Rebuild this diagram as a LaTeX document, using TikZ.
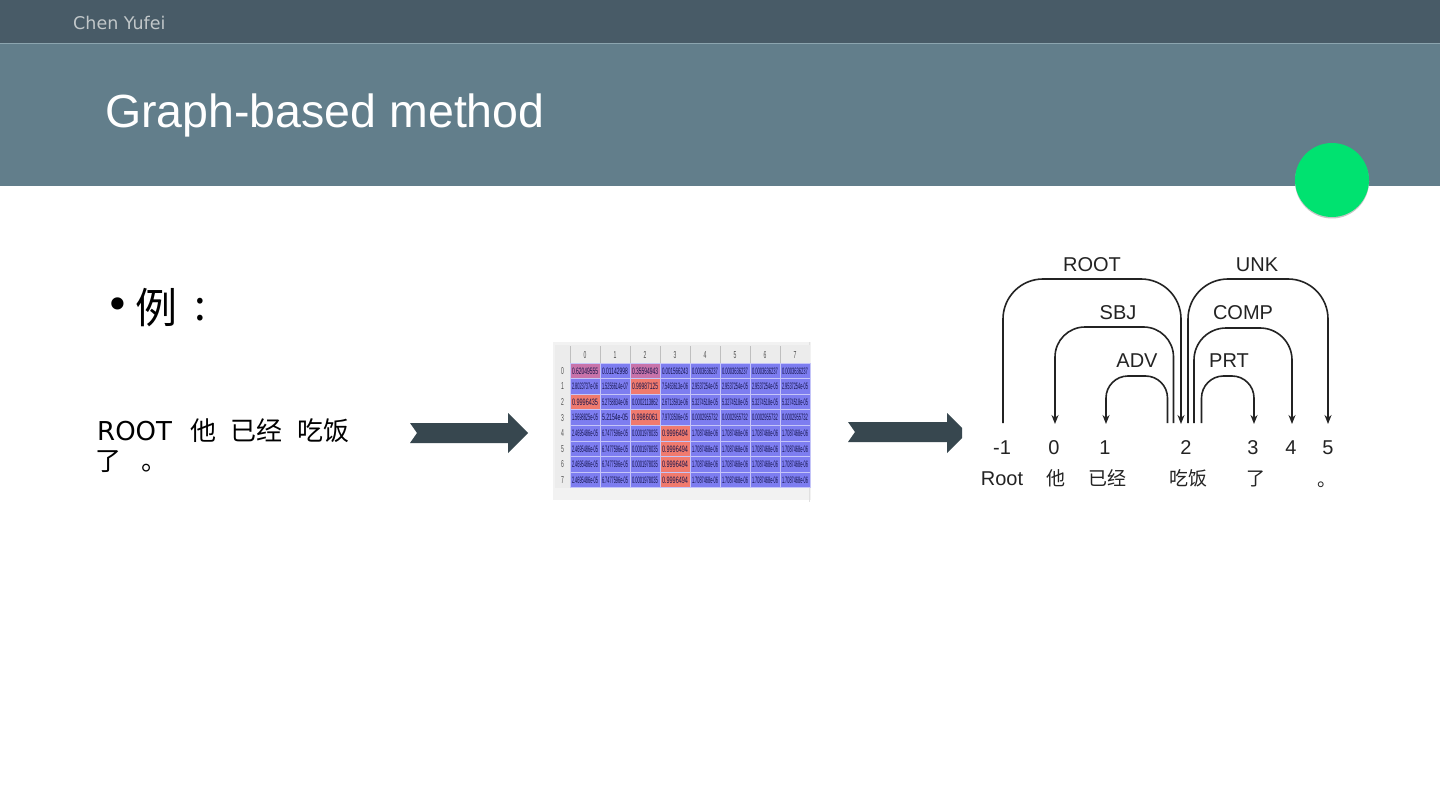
\documentclass[tikz,border=0pt]{standalone}
\usepackage{fontspec}
\usepackage{graphicx}
\setmainfont{Liberation Sans}
\newfontfamily\dejavu{DejaVu Sans}
\newfontfamily\cjk{Noto Sans CJK SC}
\newfontfamily\arial{Liberation Sans}
\usetikzlibrary{arrows.meta}
\definecolor{topbar}{RGB}{72,91,103}
\definecolor{band}{RGB}{98,126,139}
\definecolor{bandline}{RGB}{140,165,175}
\definecolor{greenc}{RGB}{0,226,112}
\definecolor{arrowc}{RGB}{55,71,79}
\definecolor{cellblue}{RGB}{125,125,240}
\definecolor{cellred}{RGB}{240,122,110}
\definecolor{cellpurple}{RGB}{200,115,170}
\definecolor{celltext}{RGB}{20,20,75}
\definecolor{hdrgray}{RGB}{236,236,236}
\definecolor{treec}{RGB}{35,35,35}
\tikzset{
  arc/.style={draw=treec, line width=1.6pt, -{Stealth[length=9pt,width=7pt]}},
  treetxt/.style={font=\arial\fontsize{20}{22}\selectfont, text=treec, inner sep=0},
  treecjk/.style={font=\cjk\fontsize{19}{22}\selectfont, text=treec, inner sep=0},
  celltxt/.style={inner sep=0, text=celltext},
  hdrtxt/.style={inner sep=0, text=black!70},
  blockarrow/.style={fill=arrowc},
}
\begin{document}
\begin{tikzpicture}[x=1pt,y=-1pt]
\useasboundingbox (0,0) rectangle (1440,810);
\fill[white] (0,0) rectangle (1440,810);
% header
\fill[topbar] (0,0) rectangle (1440,43);
\fill[bandline] (0,43) rectangle (1440,44.5);
\fill[band] (0,44.5) rectangle (1440,186);
\node[anchor=base west, font=\dejavu\fontsize{17.5}{20}\selectfont, text=black!15!white!80!band, inner sep=0] (author) at (73,29.5) {Chen Yufei};
\node[anchor=base west, font=\arial\fontsize{46.5}{50}\selectfont, text=white, inner sep=0] (title) at (105,128) {Graph-based method};
\fill[gray!45] (1332,181.5) circle (37);
\fill[greenc] (1332,180) circle (37);
% bullet
\node[font=\dejavu\fontsize{42}{42}\selectfont, inner sep=0] (bul) at (118,309) {•};
\node[anchor=west, font=\cjk\fontsize{42}{42}\selectfont, inner sep=0] (ex) at (135,308) {例};
\node[font=\cjk\fontsize{42}{42}\selectfont, inner sep=0] (colon) at (200,310) {:};
% sentence
\node[anchor=base west, font=\dejavu\fontsize{26}{28}\selectfont, inner sep=0] (sroot) at (97,440) {ROOT};
\node[anchor=base west, font=\cjk\fontsize{26}{28}\selectfont, inner sep=0] (sta) at (190,440) {他};
\node[anchor=base west, font=\cjk\fontsize{26}{28}\selectfont, inner sep=0] (syj) at (230,440) {已经};
\node[anchor=base west, font=\cjk\fontsize{26}{28}\selectfont, inner sep=0] (scf) at (297,440) {吃饭};
\node[anchor=base west, font=\cjk\fontsize{26}{28}\selectfont, inner sep=0] (sle) at (95,470) {了};
\node[anchor=base west, font=\cjk\fontsize{26}{28}\selectfont, inner sep=0] (sdot) at (141,470) {。};
% block arrows
\fill[blockarrow] (410,423) -- (508,423) -- (508,413) -- (528,433) -- (508,453) -- (508,443) -- (410,443) -- (417,433) -- cycle;
\fill[blockarrow] (848,422) -- (947,422) -- (947,413) -- (962,428) -- (962,438) -- (947,453) -- (947,442) -- (848,442) -- (855,432) -- cycle;
% matrix
\fill[black!5] (553,342) rectangle (811,500);
\draw[black!12, line width=0.6pt] (809.5,342) -- (809.5,502);
\fill[hdrgray] (555,345) rectangle (810,363);
\fill[hdrgray] (555,363) rectangle (570,488);
\foreach \c in {0,...,7}{
  \draw[black!25, line width=0.5pt] (570+30*\c,346) -- (570+30*\c,363);
  \node[hdrtxt] (h\c) at (585+30*\c,355) {\resizebox{!}{7pt}{\scalebox{0.5}[1]{\arial\c}}};
}
\foreach \r in {0,...,7}{
  \node[hdrtxt] (ri\r) at (562.5,370.8+15.6*\r) {\resizebox{!}{7pt}{\scalebox{0.5}[1]{\arial\r}}};
  \foreach \c in {0,...,7}{
    \fill[cellblue] (570+30*\c,363+15.6*\r) rectangle (600+30*\c,378.6+15.6*\r);
  }
}
% highlighted cells
\foreach \c/\r in {2/1,0/2,2/3,3/4,3/5,3/6,3/7}{
  \fill[cellred] (570+30*\c,363+15.6*\r) rectangle (600+30*\c,378.6+15.6*\r);
}
\foreach \c/\r in {0/0,2/0}{
  \fill[cellpurple] (570+30*\c,363+15.6*\r) rectangle (600+30*\c,378.6+15.6*\r);
}
\foreach \k in {0,...,8}{
  \draw[white!55!cellblue, line width=0.7pt] (570+30*\k,363) -- (570+30*\k,488);
  \draw[white!55!cellblue, line width=0.7pt] (570,363+15.6*\k) -- (810,363+15.6*\k);
}
\foreach \r/\va/\vb/\vc/\vd/\ve in {
0/0.62049555/0.01142998/0.35594943/0.001566243/0.0003636237,
1/2.8023737e-06/1.5256614e-07/0.99987125/7.5463613e-06/2.9537254e-05,
2/0.9996435/5.2758834e-06/0.0002113862/2.6713591e-06/5.3274518e-05,
3/1.5698825e-05/5.2154e-05/0.9986061/7.9703506e-05/0.0002955732,
4/2.4695486e-05/6.7477596e-05/0.0001978035/0.9996494/1.7087468e-06,
5/2.4695486e-05/6.7477596e-05/0.0001978035/0.9996494/1.7087468e-06,
6/2.4695486e-05/6.7477596e-05/0.0001978035/0.9996494/1.7087468e-06,
7/2.4695486e-05/6.7477596e-05/0.0001978035/0.9996494/1.7087468e-06}{
  \node[celltxt] (c\r-0) at (585,370.8+15.6*\r) {\resizebox{26pt}{6.5pt}{\arial\va}};
  \node[celltxt] (c\r-1) at (615,370.8+15.6*\r) {\resizebox{26pt}{6.5pt}{\arial\vb}};
  \node[celltxt] (c\r-2) at (645,370.8+15.6*\r) {\resizebox{26pt}{6.5pt}{\arial\vc}};
  \node[celltxt] (c\r-3) at (675,370.8+15.6*\r) {\resizebox{26pt}{6.5pt}{\arial\vd}};
  \node[celltxt] (c\r-4) at (705,370.8+15.6*\r) {\resizebox{26pt}{6.5pt}{\arial\ve}};
  \node[celltxt] (c\r-5) at (735,370.8+15.6*\r) {\resizebox{26pt}{6.5pt}{\arial\ve}};
  \node[celltxt] (c\r-6) at (765,370.8+15.6*\r) {\resizebox{26pt}{6.5pt}{\arial\ve}};
  \node[celltxt] (c\r-7) at (795,370.8+15.6*\r) {\resizebox{26pt}{6.5pt}{\arial\ve}};
}
% dependency tree
\node[treetxt, anchor=base] (nm1) at (1002,454) {-1};
\node[treetxt, anchor=base] (n0) at (1054,454) {0};
\node[treetxt, anchor=base] (n1) at (1105,454) {1};
\node[treetxt, anchor=base] (n2) at (1186,454) {2};
\node[treetxt, anchor=base] (n3) at (1253,454) {3};
\node[treetxt, anchor=base] (n4) at (1291,454) {4};
\node[treetxt, anchor=base] (n5) at (1328,454) {5};
\node[treetxt, anchor=base] (wroot) at (1002,485) {Root};
\node[treecjk, anchor=base] (wta) at (1056,485) {他};
\node[treecjk, anchor=base] (wyj) at (1107,485) {已经};
\node[treecjk, anchor=base] (wcf) at (1188,485) {吃饭};
\node[treecjk, anchor=base] (wle) at (1256,485) {了};
\node[treecjk, anchor=base west] (wdot) at (1317,486) {。};
\node[treetxt] (lROOT) at (1092,265) {ROOT};
\node[treetxt] (lSBJ) at (1118,313) {SBJ};
\node[treetxt] (lADV) at (1137,361) {ADV};
\node[treetxt] (lUNK) at (1257,265) {UNK};
\node[treetxt] (lCOMP) at (1243,313) {COMP};
\node[treetxt] (lPRT) at (1229,361) {PRT};
\coordinate (sROOT) at (1003,423);
\coordinate (eROOT) at (1181,424);
\coordinate (sSBJ) at (1173.5,423);
\coordinate (eSBJ) at (1055,424);
\coordinate (sADV) at (1167.5,423);
\coordinate (eADV) at (1106,424);
\coordinate (sUNK) at (1188,423);
\coordinate (eUNK) at (1328,424);
\coordinate (sCOMP) at (1194,423);
\coordinate (eCOMP) at (1292,424);
\coordinate (sPRT) at (1201.5,423);
\coordinate (ePRT) at (1254,424);
\draw[arc, rounded corners=40] (sROOT) -- (sROOT |- 0,279) -- (eROOT |- 0,279) -- (eROOT);
\draw[arc, rounded corners=30] (sSBJ) -- (sSBJ |- 0,327) -- (eSBJ |- 0,327) -- (eSBJ);
\draw[arc, rounded corners=22] (sADV) -- (sADV |- 0,376) -- (eADV |- 0,376) -- (eADV);
\draw[arc, rounded corners=40] (sUNK) -- (sUNK |- 0,279) -- (eUNK |- 0,279) -- (eUNK);
\draw[arc, rounded corners=32] (sCOMP) -- (sCOMP |- 0,328) -- (eCOMP |- 0,328) -- (eCOMP);
\draw[arc, rounded corners=22] (sPRT) -- (sPRT |- 0,376) -- (ePRT |- 0,376) -- (ePRT);
\end{tikzpicture}
\end{document}
